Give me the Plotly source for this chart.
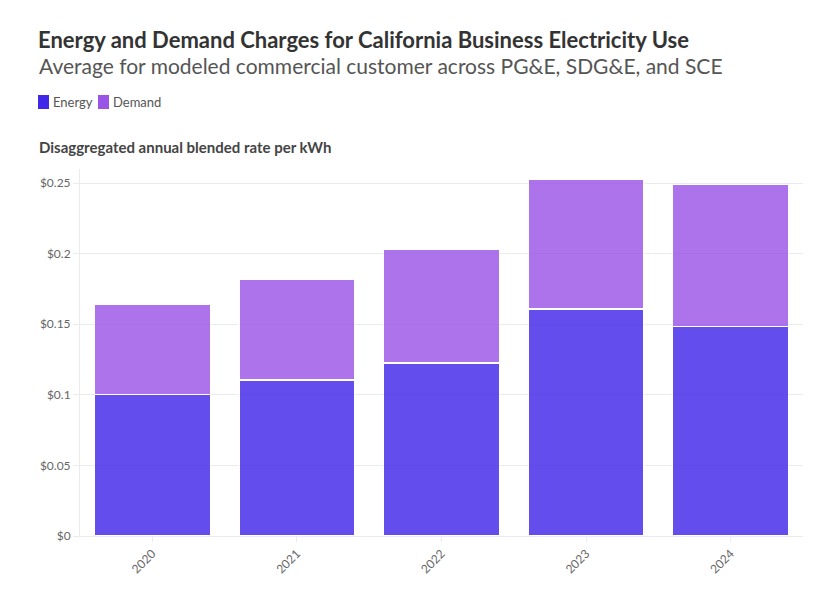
import plotly.graph_objects as go

# Data
years = ["2020", "2021", "2022", "2023", "2024"]
energy = [0.100, 0.1105, 0.1225, 0.1608, 0.1487]
demand = [0.0643, 0.0715, 0.0808, 0.0920, 0.1006]
series_names = ["Energy", "Demand"]
series_colors = ["rgb(65,39,232)", "rgb(155,85,230)"]

FONT = "Lato"
# the page body adds an 8px margin, so the figure is 16px smaller than the window
OFF = 8
W, H = 836 - 2 * OFF, 604 - 2 * OFF
M_L, M_R, M_T, M_B = 72, 25, 161, 60
plot_w = W - M_L - M_R
plot_h = H - M_T - M_B


def px_x(px):
    # screen pixel -> paper x
    return (px - OFF - M_L) / plot_w


def px_y(py):
    # screen pixel -> paper y
    return (H - M_B - (py - OFF)) / plot_h


fig = go.Figure()
for name, vals, color in zip(series_names, [energy, demand], series_colors):
    fig.add_trace(go.Bar(
        x=years, y=vals, name=name,
        marker=dict(color=color, line=dict(color="white", width=1.2)),
        opacity=0.82,
    ))

fig.update_layout(
    barmode="stack",
    bargap=0.2,
    width=W, height=H,
    margin=dict(l=M_L, r=M_R, t=M_T, b=M_B),
    plot_bgcolor="white",
    paper_bgcolor="white",
    font=dict(family=FONT, size=12, color="#666"),
    showlegend=False,
    title=dict(
        text="<b>Energy and Demand Charges for California Business Electricity Use</b>",
        x=(38 - OFF) / W, xanchor="left", xref="container",
        y=1 - (40 - OFF) / H, yanchor="middle", yref="container",
        font=dict(family=FONT, size=22, color="#333"),
    ),
)

fig.add_annotation(
    text="Average for modeled commercial customer across PG&E, SDG&E, and SCE",
    xref="paper", yref="paper", x=px_x(37), y=px_y(66),
    xanchor="left", yanchor="middle", showarrow=False,
    font=dict(family=FONT, size=21, color="#555"),
)
fig.add_annotation(
    text="<b>Disaggregated annual blended rate per kWh</b>",
    xref="paper", yref="paper", x=px_x(37), y=px_y(147),
    xanchor="left", yanchor="middle", showarrow=False,
    font=dict(family=FONT, size=15, color="#444"),
)

# compact legend drawn by hand: rounded swatch + label
legend_x = [38, 98]
for lx, name, color in zip(legend_x, series_names, series_colors):
    x0, x1 = px_x(lx), px_x(lx + 11)
    y0, y1 = px_y(109), px_y(95)
    fig.add_shape(
        type="rect", xref="paper", yref="paper",
        x0=x0, x1=x1, y0=y0, y1=y1,
        fillcolor=color, line=dict(width=0),
    )
    fig.add_annotation(
        text=name, xref="paper", yref="paper", x=px_x(lx + 13), y=px_y(102),
        xanchor="left", yanchor="middle", showarrow=False,
        font=dict(family=FONT, size=13, color="#555"),
    )

fig.update_yaxes(
    range=[0, 0.26], dtick=0.05, tickprefix="$",
    showgrid=True, gridcolor="#ebebeb", gridwidth=1,
    showline=True, linecolor="#ebebeb", zeroline=False,
    ticks="outside", ticklen=6, tickcolor="#ebebeb",
    tickfont=dict(size=12, color="#666"),
)
fig.update_xaxes(
    tickangle=-45, showline=True, linecolor="#ebebeb",
    ticks="outside", ticklen=5, tickcolor="#ebebeb",
    tickfont=dict(size=12, color="#666"),
)

fig.write_html("out.html")
